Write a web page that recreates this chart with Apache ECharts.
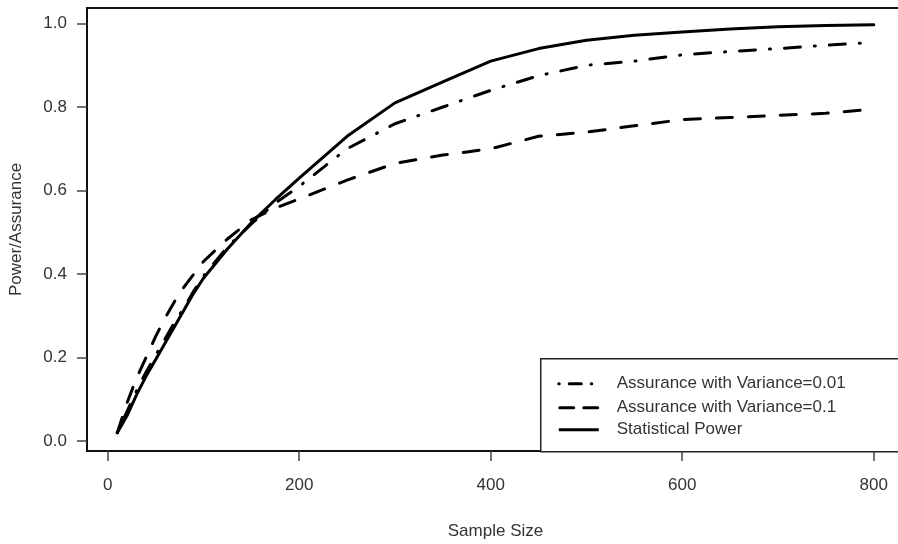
<!DOCTYPE html>
<html>
<head>
<meta charset="utf-8">
<script src="https://cdn.jsdelivr.net/npm/echarts@6/dist/echarts.min.js"></script>
<style>
  html, body { margin: 0; padding: 0; background: #fff; }
  #chart { width: 898px; height: 544px; }
</style>
</head>
<body>
<div id="chart"></div>
<script>
// sample sizes (x) and the three curves
var sampleSize = [10, 20, 30, 40, 50, 60, 70, 80, 90, 100, 125, 150, 175, 200, 250, 300, 350, 400, 450, 500, 550, 600, 650, 700, 750, 800];
var power = [0.02, 0.06, 0.11, 0.155, 0.195, 0.235, 0.275, 0.315, 0.355, 0.39, 0.46, 0.523, 0.578, 0.63, 0.73, 0.81, 0.86, 0.91, 0.94, 0.96, 0.972, 0.98, 0.987, 0.992, 0.995, 0.997];
var assur01 = [0.02, 0.07, 0.12, 0.165, 0.205, 0.245, 0.285, 0.32, 0.36, 0.395, 0.465, 0.52, 0.57, 0.61, 0.70, 0.76, 0.80, 0.84, 0.875, 0.90, 0.91, 0.925, 0.933, 0.94, 0.948, 0.955];
var assur1 = [0.02, 0.09, 0.15, 0.20, 0.25, 0.295, 0.335, 0.37, 0.40, 0.43, 0.484, 0.53, 0.558, 0.58, 0.625, 0.665, 0.685, 0.70, 0.73, 0.74, 0.755, 0.77, 0.775, 0.78, 0.785, 0.795];
var xTicks = [0, 200, 400, 600, 800];
var yTicks = [0, 0.2, 0.4, 0.6, 0.8, 1.0];
var legendNames = ["Assurance with Variance=0.01", "Assurance with Variance=0.1", "Statistical Power"];

function pairs(ys) {
  var out = [];
  for (var i = 0; i < sampleSize.length; i++) out.push([sampleSize[i], ys[i]]);
  return out;
}

var font = "'Liberation Sans', Arial, sans-serif";
var txt = "#333";
var dashDot = [1, 14, 16, 14];
var dashed = [16, 16];

var chart = echarts.init(document.getElementById("chart"));
chart.setOption({
  animation: false,
  backgroundColor: "#fff",
  grid: {
    left: 87, top: 8, width: 817, height: 443,
    outerBoundsMode: "none", containLabel: false,
    show: true, borderColor: "#111", borderWidth: 2, backgroundColor: "transparent"
  },
  xAxis: {
    type: "value", min: -21.6, max: 831.6,
    name: "Sample Size", nameLocation: "middle", nameGap: 72,
    nameTextStyle: { fontFamily: font, fontSize: 17, color: txt },
    axisLine: { show: false, onZero: false },
    splitLine: { show: false },
    axisTick: { show: true, inside: false, length: 10, customValues: xTicks, lineStyle: { color: "#444", width: 1.5 } },
    axisLabel: { customValues: xTicks, margin: 26, fontFamily: font, fontSize: 17, color: txt }
  },
  yAxis: {
    type: "value", min: -0.0238, max: 1.0372,
    name: "Power/Assurance", nameLocation: "middle", nameGap: 62, nameRotate: 90,
    nameTextStyle: { fontFamily: font, fontSize: 17, color: txt },
    axisLine: { show: false, onZero: false },
    splitLine: { show: false },
    axisTick: { show: true, inside: false, length: 10, customValues: yTicks, lineStyle: { color: "#444", width: 1.5 } },
    axisLabel: {
      customValues: yTicks, margin: 20, fontFamily: font, fontSize: 17, color: txt,
      formatter: function (v) { return v.toFixed(1); }
    }
  },
  series: [
    {
      name: legendNames[0], type: "line", data: pairs(assur01), showSymbol: false, symbol: "none",
      lineStyle: { color: "#000", width: 3, type: dashDot, cap: "round", join: "round" }
    },
    {
      name: legendNames[1], type: "line", data: pairs(assur1), showSymbol: false, symbol: "none",
      lineStyle: { color: "#000", width: 3, type: dashed, cap: "round", join: "round" }
    },
    {
      name: legendNames[2], type: "line", data: pairs(power), showSymbol: false, symbol: "none",
      lineStyle: { color: "#000", width: 3, type: "solid", cap: "round", join: "round" }
    }
  ],
  graphic: [
    {
      type: "group", left: 540, top: 358, z: 100,
      children: [
        { type: "rect", shape: { x: 0, y: 0, width: 400, height: 93 }, style: { fill: "#fff", stroke: "#222", lineWidth: 1.5 } },
        { type: "line", shape: { x1: 18, y1: 25, x2: 58, y2: 25 }, style: { stroke: "#000", lineWidth: 3, lineDash: [0.5, 10, 12, 10], lineCap: "round" } },
        { type: "line", shape: { x1: 19, y1: 49, x2: 58, y2: 49 }, style: { stroke: "#000", lineWidth: 3, lineDash: [14, 10], lineCap: "round" } },
        { type: "line", shape: { x1: 18, y1: 71, x2: 58, y2: 71 }, style: { stroke: "#000", lineWidth: 3 } },
        { type: "text", x: 76, y: 25, style: { text: legendNames[0], font: "17px " + font, fill: txt, verticalAlign: "middle" } },
        { type: "text", x: 76, y: 49, style: { text: legendNames[1], font: "17px " + font, fill: txt, verticalAlign: "middle" } },
        { type: "text", x: 76, y: 71, style: { text: legendNames[2], font: "17px " + font, fill: txt, verticalAlign: "middle" } }
      ]
    }
  ]
});
</script>
</body>
</html>
